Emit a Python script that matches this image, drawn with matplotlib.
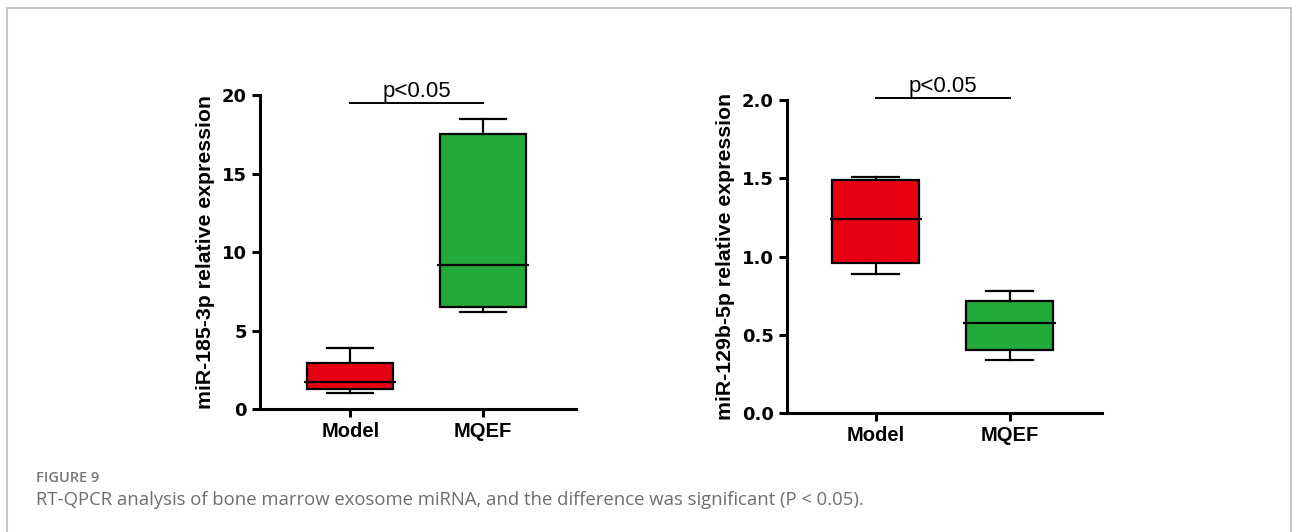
import matplotlib
matplotlib.use("Agg")
import matplotlib.pyplot as plt
from matplotlib.patches import Rectangle

plt.rcParams['font.family'] = ['Liberation Sans', 'DejaVu Sans']

# data
groups = ['Model', 'MQEF']
box_colors = ['#E60012', '#22AA3A']

# miR-185-3p: whisker low, q1, median, q3, whisker high
mir185_low = [1.0, 6.2]
mir185_q1 = [1.3, 6.5]
mir185_med = [1.7, 9.2]
mir185_q3 = [2.9, 17.5]
mir185_high = [3.9, 18.5]

# miR-129b-5p
mir129_low = [0.89, 0.34]
mir129_q1 = [0.96, 0.40]
mir129_med = [1.24, 0.575]
mir129_q3 = [1.49, 0.715]
mir129_high = [1.51, 0.78]

p_text = 'p<0.05'


def draw_panel(ax, low, q1, med, q3, high, ylabel, yticks, ylim, sig_y, fmt):
    stats = []
    for i, g in enumerate(groups):
        stats.append(dict(label=g, whislo=low[i], q1=q1[i], med=med[i],
                          q3=q3[i], whishi=high[i], fliers=[]))
    bp = ax.bxp(stats, positions=[1, 2], widths=0.65, patch_artist=True,
                showfliers=False,
                boxprops=dict(linewidth=1.6, edgecolor='black'),
                medianprops=dict(color='black', linewidth=1.6),
                whiskerprops=dict(linewidth=1.6),
                capprops=dict(linewidth=1.6), capwidths=0.35)
    for patch, c in zip(bp['boxes'], box_colors):
        patch.set_facecolor(c)
    for line in bp['medians']:
        x0, x1 = line.get_xdata()[:2]
        line.set_xdata([x0 - 0.02, x1 + 0.02])

    ax.set_ylim(*ylim)
    ax.set_yticks(yticks)
    ax.set_yticklabels([fmt.format(t) for t in yticks], fontsize=13,
                       fontweight='bold', family='DejaVu Sans')
    ax.set_xticks([1, 2])
    ax.set_xticklabels(groups, fontsize=14.5, fontweight='bold')
    ax.set_ylabel(ylabel, fontsize=15.3, fontweight='bold', labelpad=5)
    for s in ['top', 'right']:
        ax.spines[s].set_visible(False)
    for s in ['left', 'bottom']:
        ax.spines[s].set_linewidth(2.2)
    ax.tick_params(width=2.2, length=6)

    # significance bar
    ax.plot([1, 2], [sig_y, sig_y], color='black', linewidth=1.4, clip_on=False)
    ax.annotate(p_text, (1.5, sig_y), xytext=(0, 1), textcoords='offset points',
                ha='center', va='bottom', fontsize=16, annotation_clip=False)


fig = plt.figure(figsize=(12.92, 5.32), dpi=100)

ax1 = fig.add_axes([0.2012, 0.2312, 0.2446, 0.590])
draw_panel(ax1, mir185_low, mir185_q1, mir185_med, mir185_q3, mir185_high,
           'miR-185-3p relative expression', [0, 5, 10, 15, 20], (0, 20), 19.5, '{:g}')
ax1.set_xlim(0.32, 2.70)

ax2 = fig.add_axes([0.6091, 0.2237, 0.2438, 0.5883])
draw_panel(ax2, mir129_low, mir129_q1, mir129_med, mir129_q3, mir129_high,
           'miR-129b-5p relative expression', [0.0, 0.5, 1.0, 1.5, 2.0], (0, 2.0), 2.01, '{:.1f}')
ax2.set_xlim(0.336, 2.69)

# frame around the figure panel
fig.patches.append(Rectangle((7 / 1292, -0.05), 1284 / 1292, 1.05 - 8 / 532,
                             transform=fig.transFigure, fill=False,
                             edgecolor='#c8c8c8', linewidth=1.5))

fig.text(36 / 1292, 1 - 478 / 532, 'FIGURE 9', fontsize=10.5, color='#777777',
         fontweight='semibold', family=['Open Sans', 'DejaVu Sans'], va='center')
fig.text(36 / 1292, 1 - 500 / 532,
         'RT-QPCR analysis of bone marrow exosome miRNA, and the difference was significant (P < 0.05).',
         fontsize=13.3, color='#6d6d6d', family=['Open Sans', 'DejaVu Sans'], va='center')

fig.savefig('out.png', dpi=100)
